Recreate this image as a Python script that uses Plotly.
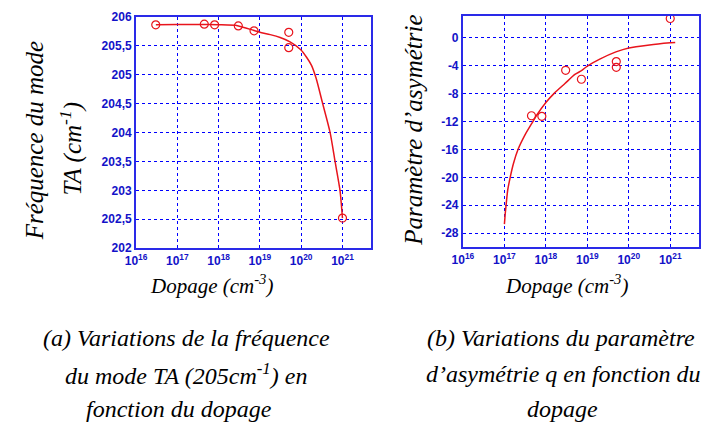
import plotly.graph_objects as go

W, H = 716, 448

# ---- data: (a) TA mode frequency vs doping ----
ta_dopage = [3e16, 4.5e17, 8e17, 3e18, 7.2e18, 5e19, 5e19, 1e21]
ta_freq = [205.86, 205.87, 205.86, 205.84, 205.755, 205.73, 205.465, 202.52]
ta_fit_exp = [16.48, 17.0, 17.5, 18.0, 18.46, 18.84, 19.0, 19.25, 19.49, 19.73,
              19.99, 20.13, 20.25, 20.36, 20.52, 20.70, 20.82, 20.94, 21.0]
ta_fit_freq = [205.86, 205.865, 205.865, 205.86, 205.845, 205.765, 205.73, 205.69,
               205.64, 205.565, 205.43, 205.30, 205.16, 204.94, 204.50, 204.0,
               203.5, 203.0, 202.52]

# ---- data: (b) asymmetry parameter q vs doping ----
q_dopage = [4.5e17, 8e17, 3e18, 7.2e18, 5e19, 5e19, 1e21]
q_vals = [-11.2, -11.28, -4.7, -5.98, -3.45, -4.28, 2.7]
q_fit_exp = [17.0, 17.02, 17.04, 17.08, 17.14, 17.22, 17.33, 17.5, 17.69, 17.77,
             18.0, 18.2, 18.46, 18.7, 18.86, 19.0, 19.3, 19.69, 20.0, 20.5, 21.0, 21.12]
q_fit_vals = [-26.7, -25.2, -24.0, -21.8, -20.0, -18.0, -16.0, -13.9, -12.0, -11.2,
              -9.3, -8.0, -6.6, -5.3, -4.75, -4.1, -3.1, -2.07, -1.5, -1.08, -0.78, -0.72]

# ---- tick labels ----
x_tickvals = [1e16, 1e17, 1e18, 1e19, 1e20, 1e21]
x_ticktext = ["<b>10<sup>16</sup></b>", "<b>10<sup>17</sup></b>", "<b>10<sup>18</sup></b>",
              "<b>10<sup>19</sup></b>", "<b>10<sup>20</sup></b>", "<b>10<sup>21</sup></b>"]
ta_tickvals = [202, 202.5, 203, 203.5, 204, 204.5, 205, 205.5, 206]
ta_ticktext = ["<b>202</b>", "<b>202,5</b>", "<b>203</b>", "<b>203,5</b>", "<b>204</b>",
               "<b>204,5</b>", "<b>205</b>", "<b>205,5</b>", "<b>206</b>"]
q_tickvals = [0, -4, -8, -12, -16, -20, -24, -28]
q_ticktext = ["<b>0</b>", "<b>-4</b>", "<b>-8</b>", "<b>-12</b>", "<b>-16</b>",
              "<b>-20</b>", "<b>-24</b>", "<b>-28</b>"]

RED = "#e8141c"
BLUE = "#2a2ae8"
GRID = "#0000ff"
TICKFONT = dict(family="Liberation Sans", size=12, color="#1212c8")
SERIF = "Liberation Serif"

fig = go.Figure()

fig.add_trace(go.Scatter(x=[10 ** e for e in ta_fit_exp], y=ta_fit_freq, mode="lines",
                         line=dict(color=RED, width=1.5, shape="spline", smoothing=0.6),
                         xaxis="x", yaxis="y", showlegend=False, hoverinfo="skip"))
fig.add_trace(go.Scatter(x=ta_dopage, y=ta_freq, mode="markers",
                         marker=dict(symbol="circle-open", size=8, color=RED, line=dict(width=1.2)),
                         xaxis="x", yaxis="y", showlegend=False))
fig.add_trace(go.Scatter(x=[10 ** e for e in q_fit_exp], y=q_fit_vals, mode="lines",
                         line=dict(color=RED, width=1.5, shape="spline", smoothing=0.6),
                         xaxis="x2", yaxis="y2", showlegend=False, hoverinfo="skip"))
fig.add_trace(go.Scatter(x=q_dopage, y=q_vals, mode="markers",
                         marker=dict(symbol="circle-open", size=8, color=RED, line=dict(width=1.2)),
                         xaxis="x2", yaxis="y2", showlegend=False))

def px(x):
    return x / W

def py(y):
    return 1 - y / H

axis_common = dict(showline=True, mirror=True, linecolor=BLUE, linewidth=2,
                   showgrid=True, gridcolor=GRID, griddash="dot", gridwidth=1,
                   zeroline=False, ticks="", tickfont=TICKFONT, ticklabeloverflow="allow")

fig.update_layout(
    width=W, height=H,
    margin=dict(l=0, r=0, t=0, b=0),
    paper_bgcolor="white", plot_bgcolor="white",
    xaxis=dict(domain=[px(127), px(366)], type="log", range=[16, 21.7],
               tickvals=x_tickvals, ticktext=x_ticktext, anchor="y", **axis_common),
    yaxis=dict(domain=[py(249), py(10)], range=[202, 206],
               tickvals=ta_tickvals, ticktext=ta_ticktext, anchor="x", **axis_common),
    xaxis2=dict(domain=[px(459), px(699)], type="log", range=[16, 21.7],
                tickvals=x_tickvals, ticktext=x_ticktext, anchor="y2", **axis_common),
    yaxis2=dict(domain=[py(248), py(9)], range=[-30, 3.1],
                tickvals=q_tickvals, ticktext=q_ticktext, anchor="x2", **axis_common),
)

def ann(text, x, y, size, angle=0):
    fig.add_annotation(text="<i>" + text + "</i>", x=px(x), y=py(y), xref="paper", yref="paper",
                       showarrow=False, textangle=angle, xanchor="center", yanchor="middle",
                       font=dict(family=SERIF, size=size, color="black"))

# y-axis titles
ann("Fréquence du mode", 24, 138, 25, -90)
ann("TA (cm<sup>-1</sup>)", 61, 146, 25, -90)
ann("Paramètre d’asymétrie", 408, 127, 25, -90)

# x-axis titles
ann("Dopage (cm<sup>-3</sup>)", 204, 286, 21)
ann("Dopage (cm<sup>-3</sup>)", 564, 286, 21)

# captions
ann("(a) Variations de la fréquence", 178, 342, 24)
ann("du mode TA (205cm<sup>-1</sup>) en", 178, 379, 24)
ann("fonction du dopage", 171, 415, 24)
ann("(b) Variations du paramètre", 559, 342, 24)
ann("d’asymétrie q en fonction du", 561, 379, 24)
ann("dopage", 560, 415, 24)

# remove the page's default 8px body margin so the figure fills the window
fig.write_html("out.html",
               config={"displayModeBar": False},
               post_script="document.body.style.margin='0';document.body.style.overflow='hidden';")
